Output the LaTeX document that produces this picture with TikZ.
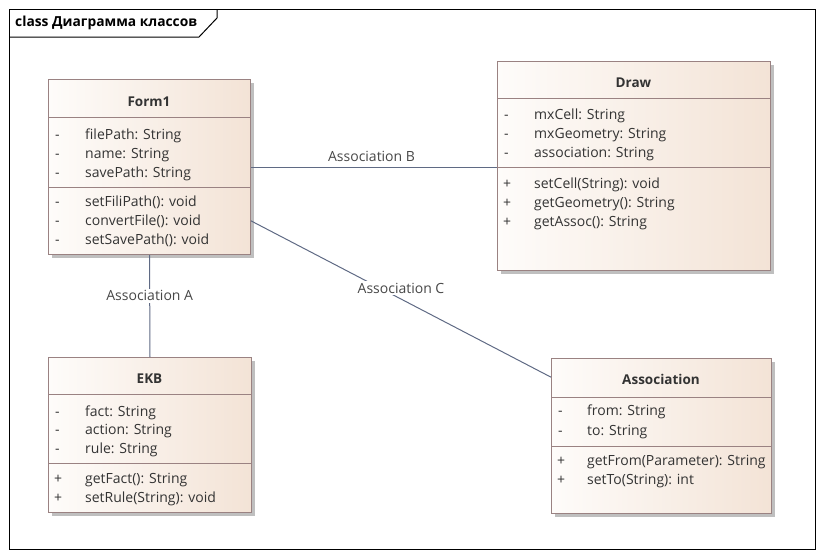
\documentclass[tikz,border=0pt]{standalone}
\usepackage{fontspec}
\setmainfont{Open Sans}
\usetikzlibrary{shadows,calc}
\definecolor{txt}{HTML}{333333}
\definecolor{bord}{HTML}{9A8282}
\definecolor{sepc}{HTML}{9A8282}
\definecolor{lnk}{HTML}{5F6A84}
\definecolor{fillL}{HTML}{FEFCFA}
\definecolor{fillR}{HTML}{F3E3D6}
\tikzset{
  classbox/.style={draw=bord, line width=1pt, anchor=north west, inner sep=0pt,
    left color=fillL, right color=fillR,
    drop shadow={shadow xshift=3pt, shadow yshift=-3pt, fill=black!25, opacity=1}},
  ttl/.style={font=\fontsize{13.5}{16}\selectfont\bfseries, text=txt, anchor=base, inner sep=0pt},
  mem/.style={font=\fontsize{14}{16}\selectfont, text=txt, anchor=base west, inner sep=0pt},
  sepline/.style={draw=sepc, line width=1pt},
  link/.style={draw=lnk, line width=1pt},
  lbl/.style={font=\fontsize{14}{16}\selectfont, text=txt!90, inner sep=1.5pt},
}
\begin{document}
\begin{tikzpicture}[x=1pt,y=-1pt]
\useasboundingbox (0,0) rectangle (823,557);
% frame
\draw[line width=1pt, black] (9,9) rectangle (815,549);
\draw[line width=1pt, black] (217,9) -- (217,18) -- (199,37) -- (9,37);
\node[font=\fontsize{13.8}{16}\selectfont\bfseries, anchor=base west, inner sep=0pt, text=black] (frametitle) at (15,26.5) {class Диаграмма классов};

% Form1
\node[classbox, minimum width=202, minimum height=175] (form1) at (48,79) {};
\draw[sepline] (48,117) -- (250,117);
\draw[sepline] (48,187) -- (250,187);
\node[ttl] (form1t) at (149,106) {Form1};
\node[mem] (f1a) at (55,139) {-}; \node[mem] (f1an) at (85,139) {filePath: String};
\node[mem] (f1b) at (55,158) {-}; \node[mem] (f1bn) at (85,158) {name: String};
\node[mem] (f1c) at (55,177) {-}; \node[mem] (f1cn) at (85,177) {savePath: String};
\node[mem] (f1d) at (55,206) {-}; \node[mem] (f1dn) at (85,206) {setFiliPath(): void};
\node[mem] (f1e) at (55,225) {-}; \node[mem] (f1en) at (85,225) {convertFile(): void};
\node[mem] (f1f) at (55,244) {-}; \node[mem] (f1fn) at (85,244) {setSavePath(): void};

% Draw
\node[classbox, minimum width=273, minimum height=209] (draw) at (497,61) {};
\draw[sepline] (497,98) -- (770,98);
\draw[sepline] (497,167) -- (770,167);
\node[ttl] (drawt) at (633.5,87) {Draw};
\node[mem] (d1) at (504,119) {-}; \node[mem] (d1n) at (534,119) {mxCell: String};
\node[mem] (d2) at (504,138) {-}; \node[mem] (d2n) at (534,138) {mxGeometry: String};
\node[mem] (d3) at (504,157) {-}; \node[mem] (d3n) at (534,157) {association: String};
\node[mem] (d4) at (503,188) {+}; \node[mem] (d4n) at (534,188) {setCell(String): void};
\node[mem] (d5) at (503,207) {+}; \node[mem] (d5n) at (534,207) {getGeometry(): String};
\node[mem] (d6) at (503,226) {+}; \node[mem] (d6n) at (534,226) {getAssoc(): String};

% EKB
\node[classbox, minimum width=203, minimum height=155] (ekb) at (48,357) {};
\draw[sepline] (48,394) -- (251,394);
\draw[sepline] (48,463) -- (251,463);
\node[ttl] (ekbt) at (149.5,383) {EKB};
\node[mem] (e1) at (55,416) {-}; \node[mem] (e1n) at (85,416) {fact: String};
\node[mem] (e2) at (55,434.5) {-}; \node[mem] (e2n) at (85,434.5) {action: String};
\node[mem] (e3) at (55,453.5) {-}; \node[mem] (e3n) at (85,453.5) {rule: String};
\node[mem] (e4) at (54,483.5) {+}; \node[mem] (e4n) at (85,483.5) {getFact(): String};
\node[mem] (e5) at (54,502.5) {+}; \node[mem] (e5n) at (85,502.5) {setRule(String): void};

% Association
\node[classbox, minimum width=220, minimum height=155] (assoc) at (551,358) {};
\draw[sepline] (551,397) -- (771,397);
\draw[sepline] (551,446) -- (771,446);
\node[ttl] (assoct) at (661,384.5) {Association};
\node[mem] (a1) at (558,415.5) {-}; \node[mem] (a1n) at (587,415.5) {from: String};
\node[mem] (a2) at (558,435) {-}; \node[mem] (a2n) at (587,435) {to: String};
\node[mem] (a3) at (557,465) {+}; \node[mem] (a3n) at (587,465) {getFrom(Parameter): String};
\node[mem] (a4) at (557,484) {+}; \node[mem] (a4n) at (587,484) {setTo(String): int};

% connectors
\draw[link] (form1.south) -- node[lbl, fill=white, pos=0.4] {Association A} (ekb.north);
\draw[link] (form1.east) -- node[lbl, above=3pt, pos=0.49] {Association B} (form1.east -| draw.west);
\draw[link] ($(form1.north east)!0.806!(form1.south east)$) -- node[lbl, fill=white, pos=0.5, yshift=11pt] {Association C} ($(assoc.north west)!0.123!(assoc.south west)$);
\end{tikzpicture}
\end{document}
